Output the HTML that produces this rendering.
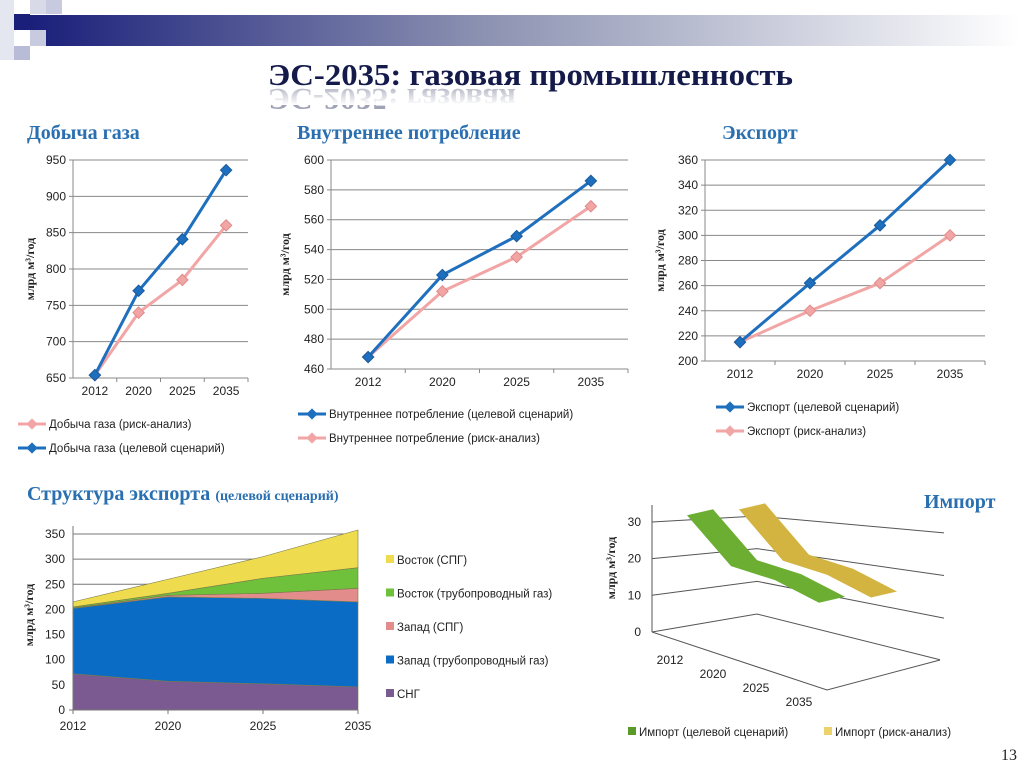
<!DOCTYPE html>
<html><head><meta charset="utf-8"><style>
body{margin:0;background:#fff;}
svg{display:block;font-family:"Liberation Sans","DejaVu Sans",sans-serif;}
.tk{font-size:12px;fill:#222;}
.lg{font-size:11.5px;fill:#222;}
.ttl{font-family:"Liberation Serif",serif;font-weight:bold;font-size:20px;fill:#2a6fb0;}
.yt{font-family:"Liberation Serif",serif;font-weight:bold;font-size:12px;fill:#222;}
</style></head><body>
<svg id="s" width="1024" height="768" viewBox="0 0 1024 768">
<defs>
<linearGradient id="hb" x1="0" x2="1"><stop offset="0" stop-color="#1a1f7a"/><stop offset="0.45" stop-color="#8a90b0"/><stop offset="1" stop-color="#ffffff"/></linearGradient>
<linearGradient id="rf" x1="0" x2="0" y1="0" y2="1"><stop offset="0" stop-color="#fff" stop-opacity="0.3"/><stop offset="1" stop-color="#fff" stop-opacity="1"/></linearGradient>
</defs>
<rect x="30" y="15" width="990" height="31" fill="url(#hb)"/>
<rect x="0" y="0" width="14" height="60" fill="#e4e6f0"/>
<rect x="14" y="14" width="16" height="16" fill="#1a1f7a"/>
<rect x="30" y="0" width="32" height="14" fill="#d8dae8"/>
<rect x="30" y="30" width="16" height="16" fill="#c8cbe0"/>
<rect x="14" y="46" width="16" height="14" fill="#b8bcd6"/>
<rect x="46" y="0" width="16" height="14" fill="#c8cbe0"/>
<text x="268" y="85" textLength="525" lengthAdjust="spacingAndGlyphs" font-family="Liberation Serif,serif" font-weight="bold" font-size="31" fill="#141a4a">ЭС-2035: газовая промышленность</text>
<g transform="translate(0,174) scale(1,-1)" opacity="0.4"><text x="268" y="85" textLength="248" lengthAdjust="spacingAndGlyphs" font-family="Liberation Serif,serif" font-weight="bold" font-size="31" fill="#141a4a">ЭС-2035: газовая</text></g>
<rect x="260" y="89" width="270" height="16" fill="url(#rf)"/>
<text x="27" y="139" class="ttl">Добыча газа</text>
<text x="297" y="139" class="ttl">Внутреннее потребление</text>
<text x="722" y="139" class="ttl">Экспорт</text>
<text x="27" y="500" class="ttl">Структура экспорта <tspan font-size="14">(целевой сценарий)</tspan></text>
<text x="924" y="508" class="ttl">Импорт</text>
<text x="1017" y="760" text-anchor="end" font-family="Liberation Serif,serif" font-size="16" fill="#222">13</text>
<g id="g"></g>
</svg>
<script>
const NS="http://www.w3.org/2000/svg";
const G=document.getElementById('g');
function mk(tag,attrs,parent,txt){const e=document.createElementNS(NS,tag);for(const k in attrs)e.setAttribute(k,attrs[k]);if(txt!==undefined)e.textContent=txt;(parent||G).appendChild(e);return e;}

const cats=['2012','2020','2025','2035'];
// Chart 1: production
const prodTarget=[654,770,841,936];
const prodRisk=[654,740,785,860];
const prodTicks=[650,700,750,800,850,900,950];
// Chart 2: consumption
const consTarget=[468,523,549,586];
const consRisk=[468,512,535,569];
const consTicks=[460,480,500,520,540,560,580,600];
// Chart 3: export
const expTarget=[215,262,308,360];
const expRisk=[215,240,262,300];
const expTicks=[200,220,240,260,280,300,320,340,360];
// Export structure (stacked)
const cisVals=[72,57,52,46];
const westPipeVals=[130,168,170,169];
const westLngVals=[1,3,10,27];
const eastPipeVals=[2,4,30,41];
const eastLngVals=[10,28,43,75];
const stackTicks=[0,50,100,150,200,250,300,350];
// Import (3D)
const impTarget=[32,16,13,9];
const impRisk=[33,19,17,13];
const impTicks=[0,10,20,30];

const BLUE='#1f6fbf',PINK='#f2a5a5';

function lineChart(o){
  const {x0,x1,y0,y1,min,max,ticks,series,name}=o;
  const g=mk('g',{});
  
  
  const ys=v=>y0-(v-min)/(max-min)*(y0-y1);
  const bw=(x1-x0)/cats.length;
  const xs=i=>x0+bw*(i+0.5);
  ticks.forEach(t=>{
    const l=mk('line',{x1:x0-4,x2:x1,y1:ys(t),y2:ys(t),stroke:'#888','stroke-width':1},g);
    
    
    const tx=mk('text',{x:x0-7,y:ys(t)+4,'text-anchor':'end',class:'tk'},g,String(t));
    
    
  });
  mk('line',{x1:x0,x2:x0,y1:y1,y2:y0,stroke:'#888'},g);
  cats.forEach((c,i)=>{
    mk('line',{x1:x0+bw*(i+1),x2:x0+bw*(i+1),y1:y0,y2:y0+4,stroke:'#888'},g);
    const tx=mk('text',{x:xs(i),y:y0+17,'text-anchor':'middle',class:'tk'},g,c);
    
    
  });
  series.forEach(s=>{
    const p=mk('polyline',{points:s.v.map((v,i)=>xs(i)+','+ys(v)).join(' '),fill:'none',stroke:s.c,'stroke-width':3},g);
    
    
    s.v.forEach((v,i)=>{
      const d=mk('rect',{x:xs(i)-4,y:ys(v)-4,width:8,height:8,fill:s.c,stroke:s.c==PINK?'#e08a8a':'#1a5a9a',transform:`rotate(45 ${xs(i)} ${ys(v)})`},g);
      
      
    });
  });
  const yt=mk('text',{x:0,y:0,class:'yt','text-anchor':'middle',transform:`translate(${o.ytx},${(y0+y1)/2}) rotate(-90)`},g,'млрд м³/год');
  
  
  o.legend.forEach((L,i)=>{
    const ly=L.y;
    mk('line',{x1:L.x,x2:L.x+28,y1:ly,y2:ly,stroke:L.c,'stroke-width':3},g);
    mk('rect',{x:L.x+10,y:ly-4,width:8,height:8,fill:L.c,transform:`rotate(45 ${L.x+14} ${ly})`},g);
    const t=mk('text',{x:L.x+31,y:ly+4,class:'lg'},g,L.t);
    
    
  });
}
lineChart({name:'production-chart',x0:73,x1:248,y0:378,y1:160,min:650,max:950,ticks:prodTicks,ytx:34,
  series:[{v:prodRisk,c:PINK,n:'production-risk-line'},{v:prodTarget,c:BLUE,n:'production-target-line'}],
  legend:[{x:18,y:424,c:PINK,t:'Добыча газа (риск-анализ)'},{x:18,y:448,c:BLUE,t:'Добыча газа (целевой сценарий)'}]});
lineChart({name:'consumption-chart',x0:331,x1:628,y0:369,y1:160,min:460,max:600,ticks:consTicks,ytx:289,
  series:[{v:consRisk,c:PINK,n:'consumption-risk-line'},{v:consTarget,c:BLUE,n:'consumption-target-line'}],
  legend:[{x:298,y:414,c:BLUE,t:'Внутреннее потребление (целевой сценарий)'},{x:298,y:438,c:PINK,t:'Внутреннее потребление (риск-анализ)'}]});
lineChart({name:'export-chart',x0:705,x1:985,y0:361,y1:160,min:200,max:360,ticks:expTicks,ytx:664,
  series:[{v:expRisk,c:PINK,n:'export-risk-line'},{v:expTarget,c:BLUE,n:'export-target-line'}],
  legend:[{x:716,y:407,c:BLUE,t:'Экспорт (целевой сценарий)'},{x:716,y:431,c:PINK,t:'Экспорт (риск-анализ)'}]});

// Stacked area
(function(){
  const x0=73,x1=358,y0=710,y1=534,max=350;
  const g=mk('g',{});
  
  
  const ys=v=>y0-v/max*(y0-y1);
  const xs=i=>x0+(x1-x0)*i/(cats.length-1);
  stackTicks.forEach(t=>{
    if(t>0){const l=mk('line',{x1:x0,x2:x1,y1:ys(t),y2:ys(t),stroke:'#777'},g);
    
    }
    const tx=mk('text',{x:x0-8,y:ys(t)+4,'text-anchor':'end',class:'tk'},g,String(t));
    
    
  });
  const layers=[
    {v:cisVals,c:'#7a5a90',n:'СНГ',id:'area-cis'},
    {v:westPipeVals,c:'#0b6cc6',n:'Запад (трубопроводный газ)',id:'area-west-pipe'},
    {v:westLngVals,c:'#e38c8c',n:'Запад (СПГ)',id:'area-west-lng'},
    {v:eastPipeVals,c:'#6fc03a',n:'Восток (трубопроводный газ)',id:'area-east-pipe'},
    {v:eastLngVals,c:'#eedc4e',n:'Восток (СПГ)',id:'area-east-lng'}];
  let base=[0,0,0,0];
  layers.forEach(L=>{
    const top=base.map((b,i)=>b+L.v[i]);
    const pts=top.map((v,i)=>xs(i)+','+ys(v)).concat(base.map((v,i)=>xs(i)+','+ys(v)).reverse());
    const p=mk('polygon',{points:pts.join(' '),fill:L.c,stroke:'#7a7a4a','stroke-width':0.6},g);
    
    
    base=top;
  });
  mk('line',{x1:x0,x2:x0,y1:y1-8,y2:y0,stroke:'#777'},g);
  mk('line',{x1:x0-4,x2:x1,y1:y0,y2:y0,stroke:'#777'},g);
  cats.forEach((c,i)=>{
    mk('line',{x1:xs(i),x2:xs(i),y1:y0,y2:y0+4,stroke:'#777'},g);
    const tx=mk('text',{x:xs(i),y:y0+20,'text-anchor':'middle',class:'tk'},g,c);
    
    
  });
  const yt=mk('text',{x:0,y:0,class:'yt','text-anchor':'middle',transform:`translate(33,615) rotate(-90)`},g,'млрд м³/год');
  
  
  layers.slice().reverse().forEach((L,i)=>{
    const y=560+i*33.5;
    mk('rect',{x:386,y:y-5,width:8,height:8,fill:L.c},g);
    const t=mk('text',{x:397,y:y+4,class:'lg'},g,L.n);
    
    
  });
})();

// 3D import chart
(function(){
  const g=mk('g',{});
  
  
  function base(x){return x<757?614+(757-x)*0.171:614+(x-757)*0.25;}
  function top30(x){return x<757?516+(757-x)*0.057:516+(x-757)*0.09;}
  const yv=(x,v)=>base(x)-(base(x)-top30(x))*v/30;
  const xc=(i,s)=>700+i*44+s*52;
  impTicks.forEach(t=>{
    const l=mk('polyline',{points:`652,${yv(652,t)} 757,${yv(757,t)} ${t==0?940:944},${yv(t==0?940:944,t)}`,fill:'none',stroke:'#555','stroke-width':1},g);
    
    
    const tx=mk('text',{x:641,y:yv(652,t)+4,'text-anchor':'end',class:'tk'},g,String(t));
    
    
  });
  mk('line',{x1:652,x2:652,y1:505,y2:632,stroke:'#555'},g);
  mk('polyline',{points:'652,632 827,690 940,660',fill:'none',stroke:'#555'},g);
  cats.forEach((c,i)=>{
    const tx=mk('text',{x:670+i*43,y:664+i*14,'text-anchor':'middle',class:'tk'},g,c);
    
    
  });
  const series=[{v:impRisk,s:1,c:'#d4b440',n:'import-risk-ribbon'},{v:impTarget,s:0,c:'#6cae32',n:'import-target-ribbon'}];
  series.forEach(S=>{
    const pts=S.v.map((v,i)=>{const x=xc(i,S.s);return [x,yv(x,v)];});
    const left=pts.map(p=>(p[0]-13)+','+(p[1]+3));
    const right=pts.map(p=>(p[0]+13)+','+(p[1]-3)).reverse();
    const p=mk('polygon',{points:left.concat(right).join(' '),fill:S.c},g);
    
    
  });
  const yt=mk('text',{x:0,y:0,class:'yt','text-anchor':'middle',transform:`translate(615,568) rotate(-90)`,'font-family':'Liberation Sans,sans-serif'},g,'млрд м³/год');
  
  
  [{x:628,c:'#5a9a2a',t:'Импорт (целевой сценарий)'},{x:824,c:'#ecd26a',t:'Импорт (риск-анализ)'}].forEach(L=>{
    mk('rect',{x:L.x,y:727,width:8,height:8,fill:L.c},g);
    const t=mk('text',{x:L.x+11,y:736,class:'lg'},g,L.t);
    
    
  });
})();
</script>
</body></html>
